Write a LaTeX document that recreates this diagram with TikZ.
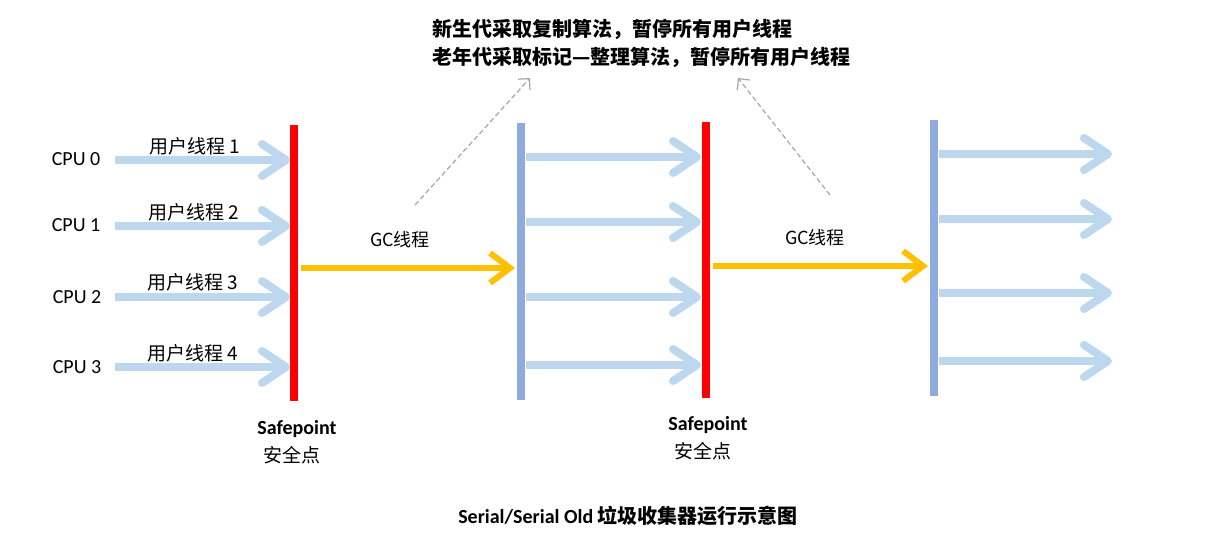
\documentclass[tikz,border=0pt]{standalone}
\usepackage{fontspec}
\setmainfont{Carlito}
\newfontfamily\cjk{Noto Sans CJK SC}
\usetikzlibrary{arrows.meta}
\definecolor{lblue}{HTML}{BDD7EE}
\definecolor{bblue}{HTML}{8FAADC}
\definecolor{gcyel}{HTML}{FFC000}
\definecolor{dgray}{HTML}{A6A6A6}
\tikzset{
  uthread/.style={draw=lblue,line width=8pt,-{Straight Barb[length=24pt,width=32pt,round]}},
  gcthread/.style={draw=gcyel,line width=6pt,-{Straight Barb[length=20pt,width=30pt]}},
  redbar/.style={draw=red,line width=8pt},
  bluebar/.style={draw=bblue,line width=8pt},
  note/.style={draw=dgray,line width=1.2pt,dash pattern=on 5pt off 3pt,-{Straight Barb[length=8pt,width=16pt]}},
  lbl/.style={inner sep=0pt,font=\fontsize{20}{22}\selectfont},
  cjklbl/.style={inner sep=0pt,font=\fontsize{19}{22}\selectfont\cjk},
}
\begin{document}
\begin{tikzpicture}[x=1pt,y=-1pt]
\useasboundingbox[fill=white] (0,0) rectangle (1207,551);
% bars
\coordinate (r1t) at (294,125); \coordinate (r1b) at (294,401);
\coordinate (b1t) at (521,123); \coordinate (b1b) at (521,400);
\coordinate (r2t) at (706,122); \coordinate (r2b) at (706,398);
\coordinate (b2t) at (934,120); \coordinate (b2b) at (934,396);
\draw[redbar] (r1t) -- (r1b);
\draw[bluebar] (b1t) -- (b1b);
\draw[redbar] (r2t) -- (r2b);
\draw[bluebar] (b2t) -- (b2b);
% CPU labels
\node[lbl] (cpu0) at (76,159) {CPU 0};
\node[lbl] (cpu1) at (76,225) {CPU 1};
\node[lbl] (cpu2) at (77,297) {CPU 2};
\node[lbl] (cpu3) at (77,367) {CPU 3};
% stage 1 arrows
\foreach \i/\y in {0/160,1/226,2/297,3/367}{
  \coordinate (s\i) at (115,\y);
  \coordinate (e\i) at (290,\y);
  \draw[uthread] (s\i) -- (e\i);
}
\node[cjklbl] (u1) at (195,146) {用户线程 1};
\node[cjklbl] (u2) at (194,212) {用户线程 2};
\node[cjklbl] (u3) at (193,282) {用户线程 3};
\node[cjklbl] (u4) at (193,353) {用户线程 4};
% stage 2 arrows
\foreach \i/\y in {0/157,1/222,2/297,3/365}{
  \coordinate (m\i) at (526,\y);
  \coordinate (n\i) at (701,\y);
  \draw[uthread] (m\i) -- (n\i);
}
% stage 3 arrows
\foreach \i/\y in {0/154,1/219,2/293,3/361}{
  \coordinate (p\i) at (939,\y);
  \coordinate (q\i) at (1112,\y);
  \draw[uthread] (p\i) -- (q\i);
}
% GC arrows
\coordinate (g1s) at (301,268); \coordinate (g1e) at (515,268);
\coordinate (g2s) at (713,266); \coordinate (g2e) at (928,266);
\draw[gcthread] (g1s) -- (g1e);
\draw[gcthread] (g2s) -- (g2e);
\node[cjklbl,font=\fontsize{18}{20}\selectfont\cjk] (gc1) at (400,240) {GC线程};
\node[cjklbl,font=\fontsize{18}{20}\selectfont\cjk] (gc2) at (815,238) {GC线程};
% top note
\node[inner sep=0pt,anchor=west,font=\fontsize{20}{28}\selectfont\cjk\bfseries] (top1) at (432,29) {新生代采取复制算法，暂停所有用户线程};
\node[inner sep=0pt,anchor=west,font=\fontsize{20}{28}\selectfont\cjk\bfseries] (top2) at (432,57) {老年代采取标记—整理算法，暂停所有用户线程};
\coordinate (d1s) at (415,205); \coordinate (d1e) at (530,78);
\coordinate (d2s) at (830,195); \coordinate (d2e) at (738,78);
\draw[note] (d1s) -- (d1e);
\draw[note] (d2s) -- (d2e);
% safepoints
\node[lbl,font=\fontsize{20}{22}\selectfont\bfseries] (sp1) at (297,429) {Safepoint};
\node[cjklbl] (aq1) at (292,455) {安全点};
\node[lbl,font=\fontsize{20}{22}\selectfont\bfseries] (sp2) at (708,425) {Safepoint};
\node[cjklbl] (aq2) at (703,451) {安全点};
% caption
\node[inner sep=0pt,font=\fontsize{20}{22}\selectfont\bfseries] (cap) at (628,516) {Serial/Serial Old {\cjk 垃圾收集器运行示意图}};
\end{tikzpicture}
\end{document}
